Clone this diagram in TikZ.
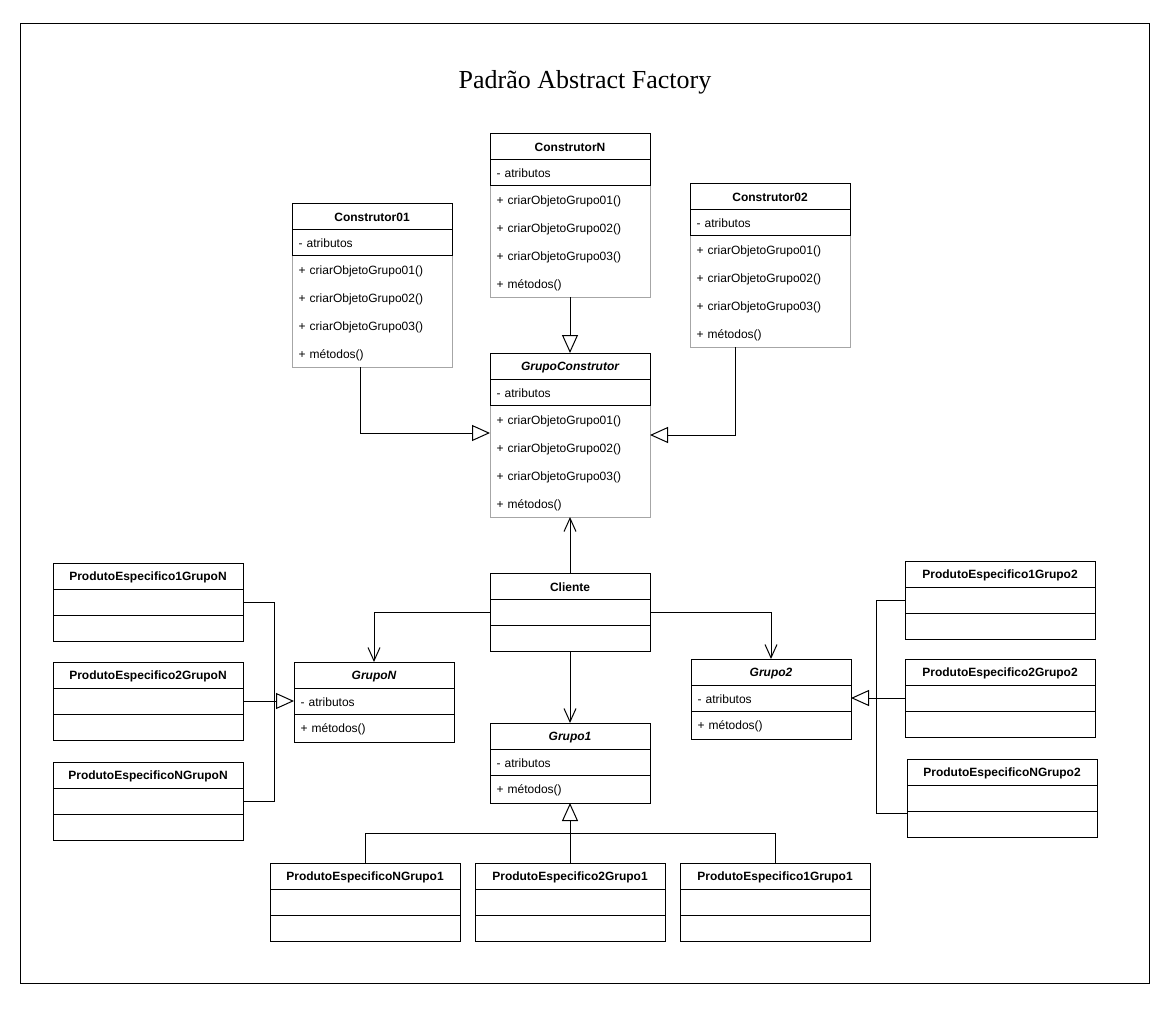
\documentclass[tikz,border=0pt]{standalone}
\usepackage{fontspec}
\setmainfont{Liberation Sans}
\newfontfamily\titlefont{Liberation Serif}
\usetikzlibrary{arrows.meta,positioning}
\tikzset{
    classname/.style={
    rectangle,draw=black,outer sep=0pt,inner sep=0pt,minimum width=120pt,minimum height=19.5pt,
    text height=8.5pt,font=\bfseries\fontsize{9}{11}\selectfont
    },
    abstractname/.style={
    classname,font=\bfseries\itshape\fontsize{9}{11}\selectfont
    },
    prodname/.style={
    classname,minimum width=142.5pt
    },
    compartment/.style={
    rectangle,draw=black,outer sep=0pt,inner xsep=5pt,inner ysep=0pt,minimum width=120pt,minimum height=19.5pt,
    text width=110pt,align=left,font=\fontsize{9}{11}\selectfont
    },
    attrs/.style={
    compartment,text height=8pt
    },
    methods/.style={
    compartment,draw=gray!70,minimum height=84pt,font=\fontsize{9}{21}\selectfont,
    execute at begin node={\rule{0pt}{10pt}}
    },
    onemethod/.style={
    attrs,minimum height=21pt
    },
    emptypart/.style={
    rectangle,draw=black,outer sep=0pt,inner sep=0pt,minimum width=142.5pt,minimum height=19.5pt
    },
    inherit/.style={
    -{Triangle[open,length=13.5pt,width=12pt]}
    },
    uses/.style={
    -{Straight Barb[length=10pt,width=9pt]}
    },
}
\begin{document}
\begin{tikzpicture}[x=0.75pt, y=-0.75pt, line width=0.75pt]
   \useasboundingbox (0,0) rectangle (1169,1031);
   \draw (20,24) rectangle (1149,983);
   \node[font=\titlefont\fontsize{19.5}{24}\selectfont] (title) at (585,82) {Padrão Abstract Factory};

   % construtores
   \node[classname] (CN) at (570,146) {ConstrutorN};
   \node[methods, below=19.5pt of CN] (CNm) {+ criarObjetoGrupo01()\\+ criarObjetoGrupo02()\\+ criarObjetoGrupo03()\\+ métodos()};
   \node[attrs, below=0pt of CN] (CNa) {- atributos};

   \node[classname] (C1) at (372,216) {Construtor01};
   \node[methods, below=19.5pt of C1] (C1m) {+ criarObjetoGrupo01()\\+ criarObjetoGrupo02()\\+ criarObjetoGrupo03()\\+ métodos()};
   \node[attrs, below=0pt of C1] (C1a) {- atributos};

   \node[classname] (C2) at (770,196) {Construtor02};
   \node[methods, below=19.5pt of C2] (C2m) {+ criarObjetoGrupo01()\\+ criarObjetoGrupo02()\\+ criarObjetoGrupo03()\\+ métodos()};
   \node[attrs, below=0pt of C2] (C2a) {- atributos};

   \node[abstractname] (GC) at (570,366) {GrupoConstrutor};
   \node[methods, below=19.5pt of GC] (GCm) {+ criarObjetoGrupo01()\\+ criarObjetoGrupo02()\\+ criarObjetoGrupo03()\\+ métodos()};
   \node[attrs, below=0pt of GC] (GCa) {- atributos};

   % cliente e grupos
   \node[classname] (Cl) at (570,586) {Cliente};
   \node[emptypart, minimum width=120pt, below=0pt of Cl] (Cla) {};
   \node[emptypart, minimum width=120pt, below=0pt of Cla] (Clb) {};

   \node[abstractname] (GN) at (374,675) {GrupoN};
   \node[attrs, below=0pt of GN] (GNa) {- atributos};
   \node[onemethod, below=0pt of GNa] (GNm) {+ métodos()};

   \node[abstractname] (G2) at (771,672) {Grupo2};
   \node[attrs, below=0pt of G2] (G2a) {- atributos};
   \node[onemethod, below=0pt of G2a] (G2m) {+ métodos()};

   \node[abstractname] (G1) at (570,736) {Grupo1};
   \node[attrs, below=0pt of G1] (G1a) {- atributos};
   \node[onemethod, below=0pt of G1a] (G1m) {+ métodos()};

   % produtos
   \node[prodname] (P1GN) at (148,576) {ProdutoEspecifico1GrupoN};
   \node[emptypart, below=0pt of P1GN] (P1GNa) {};
   \node[emptypart, below=0pt of P1GNa] (P1GNb) {};
   \node[prodname] (P2GN) at (148,675) {ProdutoEspecifico2GrupoN};
   \node[emptypart, below=0pt of P2GN] (P2GNa) {};
   \node[emptypart, below=0pt of P2GNa] (P2GNb) {};
   \node[prodname] (PNGN) at (148,775) {ProdutoEspecificoNGrupoN};
   \node[emptypart, below=0pt of PNGN] (PNGNa) {};
   \node[emptypart, below=0pt of PNGNa] (PNGNb) {};

   \node[prodname] (P1G2) at (1000,574) {ProdutoEspecifico1Grupo2};
   \node[emptypart, below=0pt of P1G2] (P1G2a) {};
   \node[emptypart, below=0pt of P1G2a] (P1G2b) {};
   \node[prodname] (P2G2) at (1000,672) {ProdutoEspecifico2Grupo2};
   \node[emptypart, below=0pt of P2G2] (P2G2a) {};
   \node[emptypart, below=0pt of P2G2a] (P2G2b) {};
   \node[prodname] (PNG2) at (1002,772) {ProdutoEspecificoNGrupo2};
   \node[emptypart, below=0pt of PNG2] (PNG2a) {};
   \node[emptypart, below=0pt of PNG2a] (PNG2b) {};

   \node[prodname] (PNG1) at (365,876) {ProdutoEspecificoNGrupo1};
   \node[emptypart, below=0pt of PNG1] (PNG1a) {};
   \node[emptypart, below=0pt of PNG1a] (PNG1b) {};
   \node[prodname] (P2G1) at (570,876) {ProdutoEspecifico2Grupo1};
   \node[emptypart, below=0pt of P2G1] (P2G1a) {};
   \node[emptypart, below=0pt of P2G1a] (P2G1b) {};
   \node[prodname] (P1G1) at (775,876) {ProdutoEspecifico1Grupo1};
   \node[emptypart, below=0pt of P1G1] (P1G1a) {};
   \node[emptypart, below=0pt of P1G1a] (P1G1b) {};

   \coordinate (busN) at (274,701);
   \coordinate (bus2) at (876,698);
   \coordinate (bus1) at (570,833);

   % heranca
   \draw[inherit] (CNm.south) -- (GC.north);
   \draw[inherit] ([xshift=-9pt]C1m.south) |- ([yshift=21pt]GCm.west);
   \draw[inherit] ([xshift=-26.25pt]C2m.south) |- ([yshift=19.5pt]GCm.east);
   \draw (P1GNa.east) -| (busN);
   \draw (PNGNa.east) -| (busN);
   \draw[inherit] (P2GNa.east) -- (GNa.west);
   \draw (P1G2a.west) -| (bus2);
   \draw ([yshift=-1.5pt]PNG2a.south west) -| (bus2);
   \draw[inherit] (P2G2a.west) -- (G2a.east);
   \draw (PNG1.north) |- (bus1) -| (P1G1.north);
   \draw[inherit] (P2G1.north) -- (G1m.south);

   % uso
   \draw[uses] (Cl.north) -- (GCm.south);
   \draw[uses] (Cla.west) -| (GN.north);
   \draw[uses] (Cla.east) -| (G2.north);
   \draw[uses] (Clb.south) -- (G1.north);
\end{tikzpicture}
\end{document}
